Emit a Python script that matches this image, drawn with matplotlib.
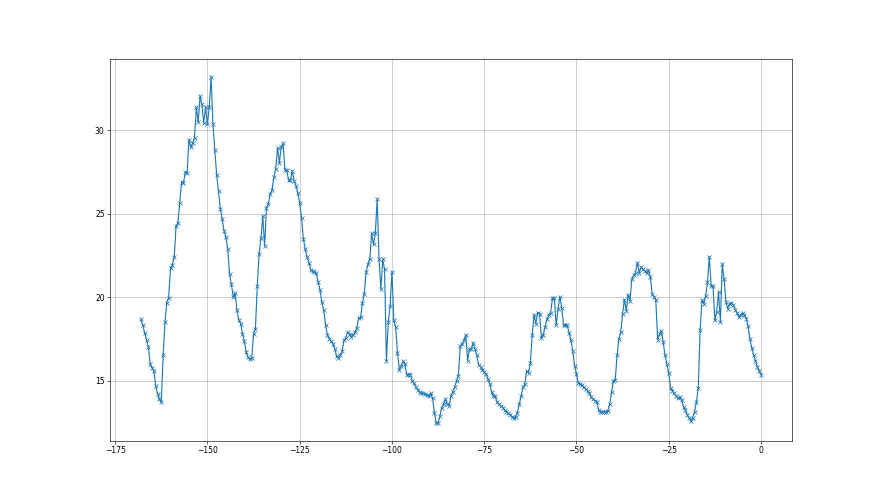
import matplotlib
matplotlib.use("Agg")
import matplotlib.pyplot as plt
import numpy as np

# tiempo relativo (pasos de 0.5 desde -168 hasta 0)
inicio = -168
paso = 0.5

# valores, por tramos
tramo_a = [18.67, 18.31, 17.85, 17.45, 16.99, 15.98, 15.78, 15.58, 14.66, 14.20,
           13.90, 13.70, 16.51, 18.51, 19.68, 19.98, 21.73, 21.93, 22.39, 24.26,
           24.46, 25.66, 26.91, 26.85, 27.49, 27.47, 29.44, 29.00, 29.24, 29.56,
           31.37, 30.48, 32.03, 31.57, 30.44, 31.37, 30.36, 31.40, 33.21]
tramo_b = [30.36, 28.80, 27.35, 26.34, 25.30, 24.68, 23.98, 23.63, 22.89, 21.37,
           20.77, 20.02, 20.26, 19.22, 18.66, 18.42, 17.81, 17.37, 16.71, 16.40,
           16.27, 16.37, 17.81, 18.07, 20.66, 22.59, 23.53, 24.88, 23.07, 25.34,
           25.60, 26.19, 26.41, 27.19, 27.69, 28.96, 28.05, 29.02, 29.22, 27.65,
           27.61, 27.00, 27.05, 27.55, 26.95, 26.69, 26.25]
tramo_c = [25.64, 24.74, 23.49, 22.87, 22.43, 22.07, 21.63, 21.55, 21.49, 21.43,
           20.92, 20.46, 19.72, 19.22, 18.36, 17.75, 17.51, 17.35, 17.21, 16.91,
           16.46, 16.37, 16.51, 16.77, 17.41, 17.55, 17.91, 17.77, 17.61, 17.75,
           17.91, 18.17, 18.75, 18.79, 19.68, 20.22, 21.52, 21.97, 22.29, 23.83,
           23.17, 23.83]
tramo_d = [25.89, 22.27, 20.48, 22.27, 21.67, 16.20, 18.49, 19.46, 21.52, 18.61,
           18.21, 16.67, 15.66, 15.86, 16.16, 16.00, 15.34, 15.40, 15.34, 15.00,
           14.84, 14.60, 14.44, 14.30, 14.26, 14.24, 14.20, 14.16, 14.06, 14.24,
           13.96, 13.09, 12.45, 12.45, 12.89, 13.39, 13.60, 13.90, 13.60, 13.49,
           14.10, 14.35, 14.60, 15.00, 15.30]
tramo_e = [17.07, 17.21, 17.41, 17.75, 16.20, 16.87, 16.87, 17.27, 16.90, 16.51,
           15.95, 15.84, 15.66, 15.50, 15.40, 15.10, 14.80, 14.34, 14.10, 14.06,
           13.70, 13.60, 13.49, 13.39, 13.25, 13.15, 13.05, 12.97, 12.85, 12.77,
           12.85, 13.09, 13.60, 14.10, 14.60, 14.80, 15.60, 15.46, 16.06]
tramo_f = [17.71, 18.96, 18.42, 19.08, 19.02, 17.55, 17.75, 18.20, 18.67, 18.96,
           19.08, 19.96, 19.96, 18.31, 19.28, 20.02, 19.36, 18.31, 18.36, 18.31,
           17.85, 17.41, 16.75, 15.90, 15.40, 14.84, 14.80, 14.74, 14.60, 14.50,
           14.40, 14.26, 14.00, 13.90, 13.80, 13.74, 13.25, 13.15, 13.15, 13.15,
           13.15, 13.19, 13.60, 14.30, 15.00, 15.04, 16.51, 17.50, 17.90]
tramo_g = [19.02, 19.86, 19.18, 20.16, 19.78, 21.07, 21.33, 21.47, 22.07, 21.47,
           21.79, 21.67, 21.59, 21.43, 21.63, 21.22, 20.22, 20.02, 19.82, 17.45,
           17.81, 17.97, 17.31, 16.51, 16.00, 15.44, 14.56, 14.40, 14.24, 14.10,
           13.94, 14.00, 13.84, 13.43, 13.23, 12.95, 12.79, 12.59]
tramo_h = [12.79, 13.15, 13.70, 14.56, 18.01, 19.82, 19.62, 20.06, 20.89, 22.43,
           20.66, 20.66, 18.61, 19.12, 20.32, 18.51, 21.99, 21.07, 19.72, 19.32,
           19.62, 19.66, 19.52, 19.26, 19.06, 18.81, 18.92, 19.06, 18.92, 18.72,
           18.25, 17.51, 16.97, 16.51, 16.20, 15.84, 15.60, 15.36]

valores = tramo_a + tramo_b + tramo_c + tramo_d + tramo_e + tramo_f + tramo_g + tramo_h
tiempos = inicio + paso * np.arange(len(valores))

fig = plt.figure(figsize=(16, 9), dpi=55)
plt.plot(tiempos, valores, marker="x")
plt.grid(True)

plt.savefig("out.png", dpi=55)
